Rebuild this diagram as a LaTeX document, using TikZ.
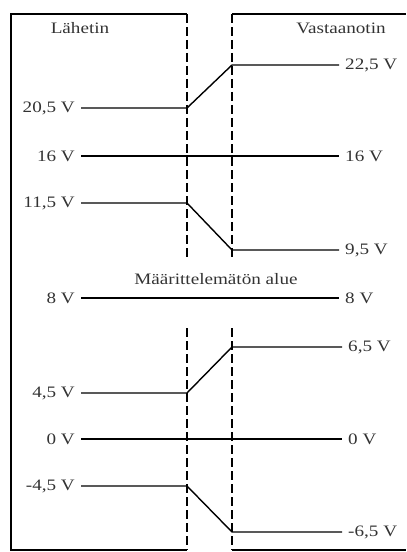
\documentclass[tikz,border=0pt]{standalone}
\usepackage{fontspec}
\setmainfont{Liberation Serif}[FakeStretch=1.2]
\usetikzlibrary{positioning}
\definecolor{lvgray}{HTML}{333333}

\begin{document}
\begin{tikzpicture}[x=1bp, y=-1bp,
  every node/.style={font=\fontsize{16}{18}\selectfont, text=lvgray},
  wall/.style={line width=1.8bp},
  gap/.style={line width=1.8bp, dash pattern=on 9bp off 4bp},
  level/.style={line width=1.4bp},
  lbl/.style={inner sep=6bp},
]
\useasboundingbox (0,0) rectangle (406,552);
% boxes
\draw[wall] (187,14) -- (11,14) -- (11,550) -- (187,550);
\draw[wall] (232,14) -- (406,14);
\draw[wall] (232,550) -- (406,550);
\draw[gap] (187,14) -- (187,258);
\draw[gap] (187,328) -- (187,550);
\draw[gap] (232,14) -- (232,258);
\draw[gap] (232,328) -- (232,550);
\node (tx) at (80,28) {Lähetin};
\node (rx) at (341,28) {Vastaanotin};
\node (undef) at (216,279) {Määrittelemätön alue};
% sender levels
\node[lbl, anchor=east] (s205) at (81,108) {20,5 V};
\node[lbl, anchor=east] (s16) at (81,156) {16 V};
\node[lbl, anchor=east] (s115) at (81,203) {11,5 V};
\node[lbl, anchor=east] (s8) at (81,298) {8 V};
\node[lbl, anchor=east] (s45) at (81,393) {4,5 V};
\node[lbl, anchor=east] (s0) at (81,439) {0 V};
\node[lbl, anchor=east] (sm45) at (81,486) {-4,5 V};
% receiver levels
\node[lbl, anchor=west] (r225) at (339,65) {22,5 V};
\node[lbl, anchor=west] (r16) at (339,156) {16 V};
\node[lbl, anchor=west] (r95) at (339,250) {9,5 V};
\node[lbl, anchor=west] (r8) at (339,298) {8 V};
\node[lbl, anchor=west] (r65) at (342,347) {6,5 V};
\node[lbl, anchor=west] (r0) at (342,439) {0 V};
\node[lbl, anchor=west] (rm65) at (342,532) {-6,5 V};
% connections
\draw[level] (s205.east) -- (187,108) -- (232,65) -- (r225.west);
\draw[level] (s16.east) -- (r16.west);
\draw[level] (s115.east) -- (187,203) -- (232,250) -- (r95.west);
\draw[level] (s8.east) -- (r8.west);
\draw[level] (s45.east) -- (187,393) -- (232,347) -- (r65.west);
\draw[level] (s0.east) -- (r0.west);
\draw[level] (sm45.east) -- (187,486) -- (232,532) -- (rm65.west);
\end{tikzpicture}
\end{document}
